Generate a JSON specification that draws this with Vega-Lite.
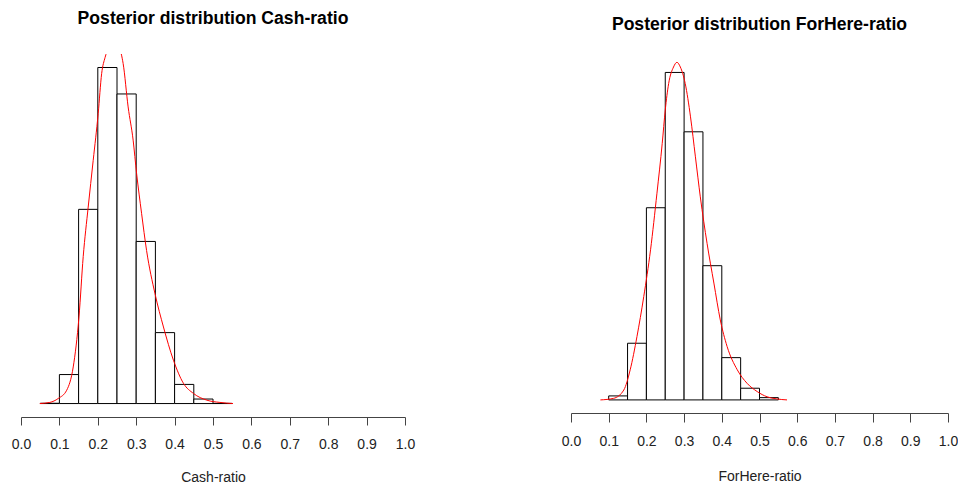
{
  "$schema": "https://vega.github.io/schema/vega-lite/v6.json",
  "background": "white",
  "padding": {"left": 11, "top": 10, "right": 0, "bottom": 5},
  "spacing": 166,
  "bounds": "flush",
  "config": {
    "view": {"stroke": null},
    "font": "Liberation Sans",
    "title": {"font": "Liberation Sans", "fontSize": 17.6, "fontWeight": "bold", "color": "black", "anchor": "middle", "frame": "group", "baseline": "alphabetic"},
    "axis": {"labelFont": "Liberation Sans", "titleFont": "Liberation Sans", "labelFontSize": 14, "titleFontSize": 14, "titleFontWeight": "normal", "labelColor": "#222", "titleColor": "#222", "domainColor": "#444", "tickColor": "#444", "tickSize": 8, "labelPadding": 12, "titlePadding": 19, "grid": false, "labelOverlap": false, "labelFlush": false},
    "axisX": {"labelOverlap": false}
  },
  "datasets": {
    "cashBars": [
      {"x": 0.05, "xend": 0.10, "y": 0.005},
      {"x": 0.10, "xend": 0.15, "y": 0.515},
      {"x": 0.15, "xend": 0.20, "y": 3.45},
      {"x": 0.20, "xend": 0.25, "y": 5.97},
      {"x": 0.25, "xend": 0.30, "y": 5.50},
      {"x": 0.30, "xend": 0.35, "y": 2.88},
      {"x": 0.35, "xend": 0.40, "y": 1.26},
      {"x": 0.40, "xend": 0.45, "y": 0.34},
      {"x": 0.45, "xend": 0.50, "y": 0.08},
      {"x": 0.50, "xend": 0.55, "y": 0.003}
    ],
    "cashCurve": [
      {"x": 0.049, "y": 0.0},
      {"x": 0.075, "y": 0.02},
      {"x": 0.097, "y": 0.09},
      {"x": 0.119, "y": 0.236},
      {"x": 0.136, "y": 0.65},
      {"x": 0.151, "y": 1.54},
      {"x": 0.162, "y": 2.61},
      {"x": 0.175, "y": 3.49},
      {"x": 0.188, "y": 4.32},
      {"x": 0.201, "y": 5.15},
      {"x": 0.210, "y": 5.86},
      {"x": 0.219, "y": 6.15},
      {"x": 0.228, "y": 6.32},
      {"x": 0.242, "y": 6.42},
      {"x": 0.256, "y": 6.32},
      {"x": 0.266, "y": 6.04},
      {"x": 0.279, "y": 5.27},
      {"x": 0.292, "y": 4.68},
      {"x": 0.301, "y": 4.09},
      {"x": 0.314, "y": 3.38},
      {"x": 0.327, "y": 2.72},
      {"x": 0.349, "y": 1.95},
      {"x": 0.371, "y": 1.36},
      {"x": 0.397, "y": 0.77},
      {"x": 0.423, "y": 0.36},
      {"x": 0.449, "y": 0.18},
      {"x": 0.484, "y": 0.06},
      {"x": 0.518, "y": 0.02},
      {"x": 0.552, "y": 0.0}
    ],
    "herBars": [
      {"x": 0.10, "xend": 0.15, "y": 0.077},
      {"x": 0.15, "xend": 0.20, "y": 1.091},
      {"x": 0.20, "xend": 0.25, "y": 3.70},
      {"x": 0.25, "xend": 0.30, "y": 6.305},
      {"x": 0.30, "xend": 0.35, "y": 5.162},
      {"x": 0.35, "xend": 0.40, "y": 2.584},
      {"x": 0.40, "xend": 0.45, "y": 0.814},
      {"x": 0.45, "xend": 0.50, "y": 0.225},
      {"x": 0.50, "xend": 0.55, "y": 0.044}
    ],
    "herCurve": [
      {"x": 0.078, "y": 0.0},
      {"x": 0.113, "y": 0.03},
      {"x": 0.140, "y": 0.19},
      {"x": 0.157, "y": 0.58},
      {"x": 0.175, "y": 1.22},
      {"x": 0.193, "y": 1.99},
      {"x": 0.211, "y": 2.89},
      {"x": 0.228, "y": 3.98},
      {"x": 0.242, "y": 4.94},
      {"x": 0.250, "y": 5.58},
      {"x": 0.259, "y": 6.09},
      {"x": 0.272, "y": 6.41},
      {"x": 0.281, "y": 6.50},
      {"x": 0.290, "y": 6.41},
      {"x": 0.303, "y": 6.09},
      {"x": 0.317, "y": 5.45},
      {"x": 0.330, "y": 4.68},
      {"x": 0.343, "y": 3.91},
      {"x": 0.361, "y": 3.01},
      {"x": 0.379, "y": 2.25},
      {"x": 0.396, "y": 1.54},
      {"x": 0.414, "y": 1.03},
      {"x": 0.441, "y": 0.58},
      {"x": 0.467, "y": 0.32},
      {"x": 0.494, "y": 0.16},
      {"x": 0.520, "y": 0.06},
      {"x": 0.545, "y": 0.02},
      {"x": 0.573, "y": 0.0}
    ]
  },
  "hconcat": [
    {
      "width": 384,
      "height": 363,
      "title": {"text": "Posterior distribution Cash-ratio", "offset": 26},
      "encoding": {
        "x": {"field": "x", "type": "quantitative", "scale": {"domain": [0, 1], "nice": false, "zero": false}, "axis": {"values": [0, 0.1, 0.2, 0.3, 0.4, 0.5, 0.6, 0.7, 0.8, 0.9, 1.0], "format": ".1f", "title": "Cash-ratio", "labelOverlap": false, "labelFlush": false, "labelBound": false}},
        "y": {"field": "y", "type": "quantitative", "scale": {"domain": [-0.239, 6.21], "nice": false, "zero": false}, "axis": null}
      },
      "layer": [
        {
          "data": {"name": "cashBars"},
          "mark": {"type": "rect", "fill": "white", "stroke": "black", "strokeWidth": 1},
          "encoding": {
            "x2": {"field": "xend"},
            "y2": {"datum": 0}
          }
        },
        {
          "data": {"name": "cashCurve"},
          "mark": {"type": "line", "color": "red", "strokeWidth": 1, "interpolate": "monotone", "clip": true},
          "encoding": {}
        }
      ]
    },
    {
      "width": 377,
      "height": 359,
      "title": {"text": "Posterior distribution ForHere-ratio", "offset": 20},
      "encoding": {
        "x": {"field": "x", "type": "quantitative", "scale": {"domain": [0, 1], "nice": false, "zero": false}, "axis": {"values": [0, 0.1, 0.2, 0.3, 0.4, 0.5, 0.6, 0.7, 0.8, 0.9, 1.0], "format": ".1f", "title": "ForHere-ratio", "titlePadding": 21, "tickSize": 9, "labelOverlap": false, "labelFlush": false, "labelBound": false}},
        "y": {"field": "y", "type": "quantitative", "scale": {"domain": [-0.252, 6.66], "nice": false, "zero": false}, "axis": null}
      },
      "layer": [
        {
          "data": {"name": "herBars"},
          "mark": {"type": "rect", "fill": "white", "stroke": "black", "strokeWidth": 1},
          "encoding": {
            "x2": {"field": "xend"},
            "y2": {"datum": 0}
          }
        },
        {
          "data": {"name": "herCurve"},
          "mark": {"type": "line", "color": "red", "strokeWidth": 1, "interpolate": "monotone", "clip": true},
          "encoding": {}
        }
      ]
    }
  ]
}
